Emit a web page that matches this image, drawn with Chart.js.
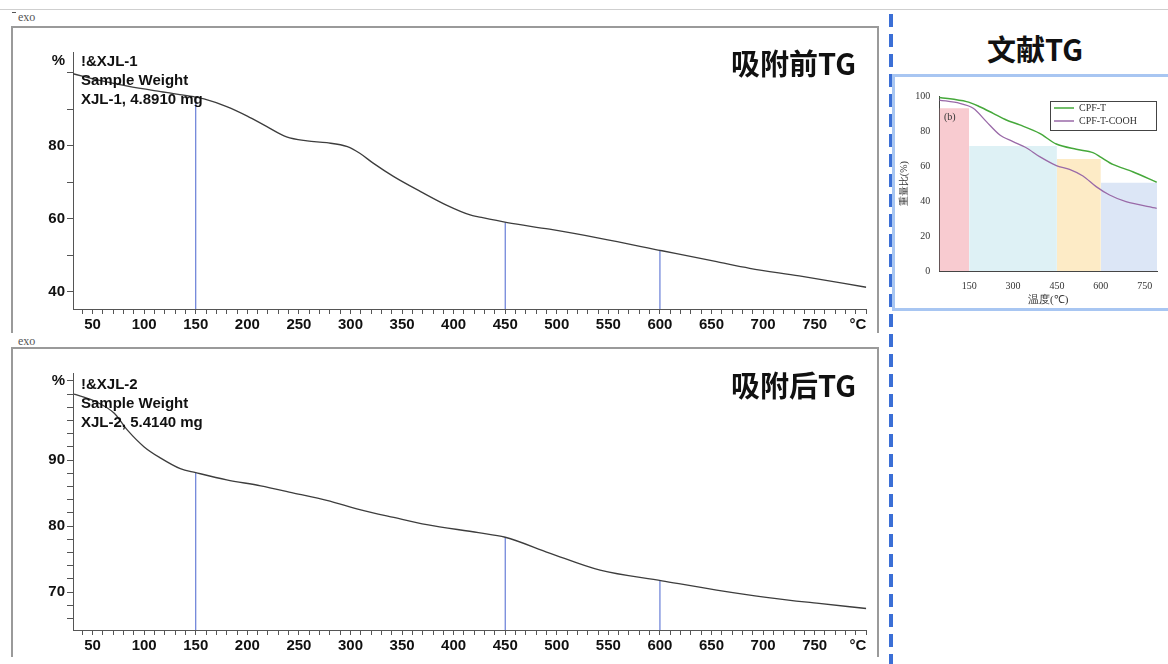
<!DOCTYPE html>
<html>
<head>
<meta charset="utf-8">
<script src="https://cdn.jsdelivr.net/npm/chart.js@4.4.1/dist/chart.umd.min.js"></script>
<style>
  body { margin: 0; width: 1168px; height: 664px; background: #fff; position: relative; overflow: hidden;
         font-family: "Liberation Sans", Arial, sans-serif; }
  .abs { position: absolute; }
  .frame { position: absolute; border: 2px solid #9a9a9a; border-bottom: none; box-sizing: border-box; }
  .exo { position: absolute; font: 12px "Liberation Serif", serif; color: #555; }
  .sample { position: absolute; left: 81px; font-weight: bold; font-size: 15px; line-height: 19px; color: #111; white-space: nowrap; }
  .title { position: absolute; font-family: "Noto Sans CJK SC", sans-serif; font-weight: bold; font-size: 29px; color: #111; white-space: nowrap; }
  canvas { position: absolute; }
</style>
</head>
<body>
<div class="abs" style="left:0;top:9px;width:1168px;height:1px;background:#cfcfcf"></div>
<div class="abs" style="left:12px;top:12px;width:4px;height:1px;background:#555"></div>
<div class="exo" style="left:18px;top:10px">exo</div>
<div class="frame" style="left:11px;top:26px;width:868px;height:307px"></div>
<div class="exo" style="left:18px;top:334px">exo</div>
<div class="frame" style="left:11px;top:347px;width:868px;height:310px"></div>

<canvas id="tgBefore" width="885" height="300" style="left:0;top:40px"></canvas>
<canvas id="tgAfter" width="885" height="300" style="left:0;top:360px"></canvas>

<div class="sample" style="top:51px">!&amp;XJL-1<br>Sample Weight<br>XJL-1, 4.8910 mg</div>
<div class="sample" style="top:374px">!&amp;XJL-2<br>Sample Weight<br>XJL-2, 5.4140 mg</div>
<div class="title" style="left:690px;width:166px;text-align:right;top:42px;line-height:40px">吸附前TG</div>
<div class="title" style="left:690px;width:166px;text-align:right;top:364px;line-height:40px">吸附后TG</div>

<div class="abs" style="left:889px;top:14px;width:4px;height:650px;background:repeating-linear-gradient(to bottom,#3b6fd6 0 13px,transparent 13px 20px)"></div>
<div class="title" style="left:960px;width:150px;text-align:center;top:28px;line-height:40px">文献TG</div>
<div class="abs" style="left:892px;top:74px;width:290px;height:237px;border:3px solid #a8c6f2;box-sizing:border-box"></div>
<canvas id="litTG" width="270" height="228" style="left:895px;top:80px"></canvas>
<div class="abs" style="left:944px;top:111px;font:10px 'Liberation Serif',serif;color:#333">(b)</div>

<script>
// XJL-1, before adsorption (temperature °C, mass %)
var tempBefore = [31, 58, 84, 116, 148, 158, 180, 200, 219, 238, 258, 277, 297, 309, 322, 342, 368, 393, 416, 424, 452, 493, 542, 602, 655, 687, 735, 800];
var massBefore = [99.8, 97.9, 96.4, 94.9, 93.5, 92.9, 90.8, 88.2, 85.3, 82.5, 81.4, 80.9, 79.8, 78.0, 75.3, 71.6, 67.5, 63.8, 61.1, 60.6, 59.0, 57.2, 54.7, 51.3, 48.3, 46.5, 44.4, 41.3];
// XJL-2, after adsorption
var tempAfter = [32, 51, 71, 84, 100, 116, 135, 150, 180, 213, 245, 277, 309, 342, 374, 424, 450, 493, 542, 602, 655, 703, 752, 800];
var massAfter = [100.0, 99.0, 97.1, 94.5, 92.0, 90.3, 88.7, 88.1, 87.0, 86.1, 85.0, 83.9, 82.5, 81.3, 80.2, 79.0, 78.3, 75.9, 73.3, 71.7, 70.3, 69.2, 68.3, 67.5];

// vertical marker lines
var markTemps = [150, 450, 600];
var markBefore = [93.4, 59.0, 51.3];
var markAfter = [88.1, 78.3, 71.7];

// y labels shown on each TG chart
var yLabelsBefore = [40, 60, 80];
var yLabelsAfter = [70, 80, 90];

// literature chart
var litTempT = [48, 141, 186, 232, 277, 323, 391, 448, 516, 573, 601, 641, 709, 791];
var litCPFT = [99.2, 96.8, 93.9, 90.1, 86.3, 83.5, 78.7, 72.6, 69.6, 67.7, 65.0, 61.0, 56.8, 50.8];
var litTempC = [48, 118, 164, 209, 255, 300, 345, 391, 448, 493, 539, 584, 630, 686, 791];
var litCOOH = [97.7, 95.8, 93.0, 85.4, 77.8, 74.0, 70.5, 65.4, 60.3, 58.2, 54.4, 48.3, 43.5, 39.7, 35.9];
var bandFrom = [48, 150, 450, 600];
var bandTo = [150, 450, 600, 792];
var bandTop = [93, 71.5, 64, 50.5];
var bandColors = ['rgba(242,160,170,0.55)', 'rgba(200,232,238,0.6)', 'rgba(252,222,160,0.6)', 'rgba(196,214,240,0.6)'];
var litXTicks = [150, 300, 450, 600, 750];
var litYTicks = [0, 20, 40, 60, 80, 100];

var X_MIN = 31, X_MAX = 800;

function points(xs, ys) {
  return xs.map(function (x, i) { return { x: x, y: ys[i] }; });
}

function tgChart(id, temps, mass, marks, yMin, yMax, yStart, yStep, yLabels, pctValue, showPctTick, padTop, xHeight) {
  var datasets = [{ data: points(temps, mass), borderColor: '#3d3d3d', borderWidth: 1.3, pointRadius: 0, cubicInterpolationMode: 'monotone' }];
  markTemps.forEach(function (t, i) {
    datasets.push({ data: [{ x: t, y: yMin }, { x: t, y: marks[i] }], borderColor: '#4a64cf', borderWidth: 1, pointRadius: 0 });
  });
  return new Chart(document.getElementById(id), {
    type: 'line',
    data: { datasets: datasets },
    options: {
      responsive: false,
      animation: false,
      layout: { padding: { top: padTop, right: 18, left: 0, bottom: 0 } },
      plugins: { legend: { display: false }, tooltip: { enabled: false } },
      scales: {
        x: {
          type: 'linear', min: X_MIN, max: X_MAX,
          afterBuildTicks: function (s) {
            var t = [];
            for (var v = 40; v <= X_MAX; v += 10) t.push({ value: v });
            s.ticks = t;
          },
          afterFit: function (s) { s.height = xHeight; },
          ticks: {
            autoSkip: false, maxRotation: 0, padding: 2, color: '#111',
            font: { size: 15, weight: 'bold' },
            callback: function (v) {
              if (v === X_MAX) return '°C    ';
              return v % 50 === 0 ? v : '';
            }
          },
          grid: { drawOnChartArea: false, tickLength: 5, tickColor: '#555' },
          border: { color: '#555', width: 1 }
        },
        y: {
          type: 'linear', min: yMin, max: yMax,
          afterBuildTicks: function (s) {
            var t = [];
            for (var v = yStart; v <= 100; v += yStep) t.push({ value: v });
            t.push({ value: pctValue });
            s.ticks = t;
          },
          afterFit: function (s) { s.width = 73; },
          ticks: {
            autoSkip: false, padding: 2, color: '#111',
            font: { size: 15, weight: 'bold' },
            callback: function (v) {
              if (v === pctValue) return '%';
              return yLabels.indexOf(v) >= 0 ? v : '';
            }
          },
          grid: {
            drawOnChartArea: false, tickLength: 6,
            tickColor: function (c) {
              return (c.tick && c.tick.value === pctValue && !showPctTick) ? 'rgba(0,0,0,0)' : '#555';
            }
          },
          border: { color: '#555', width: 1 }
        }
      }
    }
  });
}

tgChart('tgBefore', tempBefore, massBefore, markBefore, 35.34, 105.75, 40, 10, yLabelsBefore, 103.3, false, 12, 31);
tgChart('tgAfter', tempAfter, massAfter, markAfter, 64.24, 103.2, 66, 2, yLabelsAfter, 102, true, 13, 30);

// literature chart legend box
var litLegend = {
  id: 'litLegend',
  afterDraw: function (chart) {
    var ctx = chart.ctx, a = chart.chartArea;
    var items = chart.data.datasets.filter(function (d) { return d.label; });
    var w = 106, h = 29, x0 = a.right - w - 1, y0 = a.top + 5;
    ctx.save();
    ctx.fillStyle = '#fff';
    ctx.fillRect(x0, y0, w, h);
    ctx.strokeStyle = '#444';
    ctx.lineWidth = 1;
    ctx.strokeRect(x0 + 0.5, y0 + 0.5, w, h);
    ctx.font = "10px 'Liberation Serif', serif";
    ctx.textBaseline = 'middle';
    items.forEach(function (d, i) {
      var y = y0 + 7 + i * 13;
      ctx.strokeStyle = d.borderColor;
      ctx.lineWidth = 1.5;
      ctx.beginPath();
      ctx.moveTo(x0 + 4, y);
      ctx.lineTo(x0 + 24, y);
      ctx.stroke();
      ctx.fillStyle = '#333';
      ctx.fillText(d.label, x0 + 29, y);
    });
    ctx.restore();
  }
};

var litDatasets = [
  { label: 'CPF-T', data: points(litTempT, litCPFT), borderColor: '#45a83a', borderWidth: 1.5, pointRadius: 0, tension: 0.3, order: 0 },
  { label: 'CPF-T-COOH', data: points(litTempC, litCOOH), borderColor: '#9a6aa8', borderWidth: 1.3, pointRadius: 0, tension: 0.3, order: 0 }
];
bandFrom.forEach(function (f, i) {
  litDatasets.push({
    data: [{ x: f, y: bandTop[i] }, { x: bandTo[i], y: bandTop[i] }],
    fill: 'origin', backgroundColor: bandColors[i], borderWidth: 0, pointRadius: 0, order: 1
  });
});

var serif = "'Liberation Serif', 'Times New Roman', serif";
new Chart(document.getElementById('litTG'), {
  type: 'line',
  data: { datasets: litDatasets },
  plugins: [litLegend],
  options: {
    responsive: false,
    animation: false,
    layout: { padding: { top: 16, right: 8, left: 0, bottom: 0 } },
    plugins: { legend: { display: false }, tooltip: { enabled: false } },
    scales: {
      x: {
        type: 'linear', min: 48, max: 792,
        afterBuildTicks: function (s) { s.ticks = litXTicks.map(function (v) { return { value: v }; }); },
        afterFit: function (s) { s.height = 36.7; },
        ticks: { autoSkip: false, maxRotation: 0, padding: 9, color: '#333', font: { size: 10, family: serif } },
        grid: { display: false, tickLength: 0 },
        border: { color: '#444', width: 1 },
        title: { display: true, text: '温度(℃)', color: '#333', font: { size: 11, family: serif }, padding: { top: 0, bottom: 1 } }
      },
      y: {
        type: 'linear', min: 0, max: 100,
        afterBuildTicks: function (s) { s.ticks = litYTicks.map(function (v) { return { value: v }; }); },
        afterFit: function (s) { s.width = 44.3; },
        ticks: { autoSkip: false, padding: 9, color: '#333', font: { size: 10, family: serif } },
        grid: { display: false, tickLength: 0 },
        border: { color: '#444', width: 1 },
        title: { display: true, text: '重量比(%)', color: '#333', font: { size: 10, family: serif }, padding: { top: 3, bottom: 0 } }
      }
    }
  }
});
</script>
</body>
</html>
